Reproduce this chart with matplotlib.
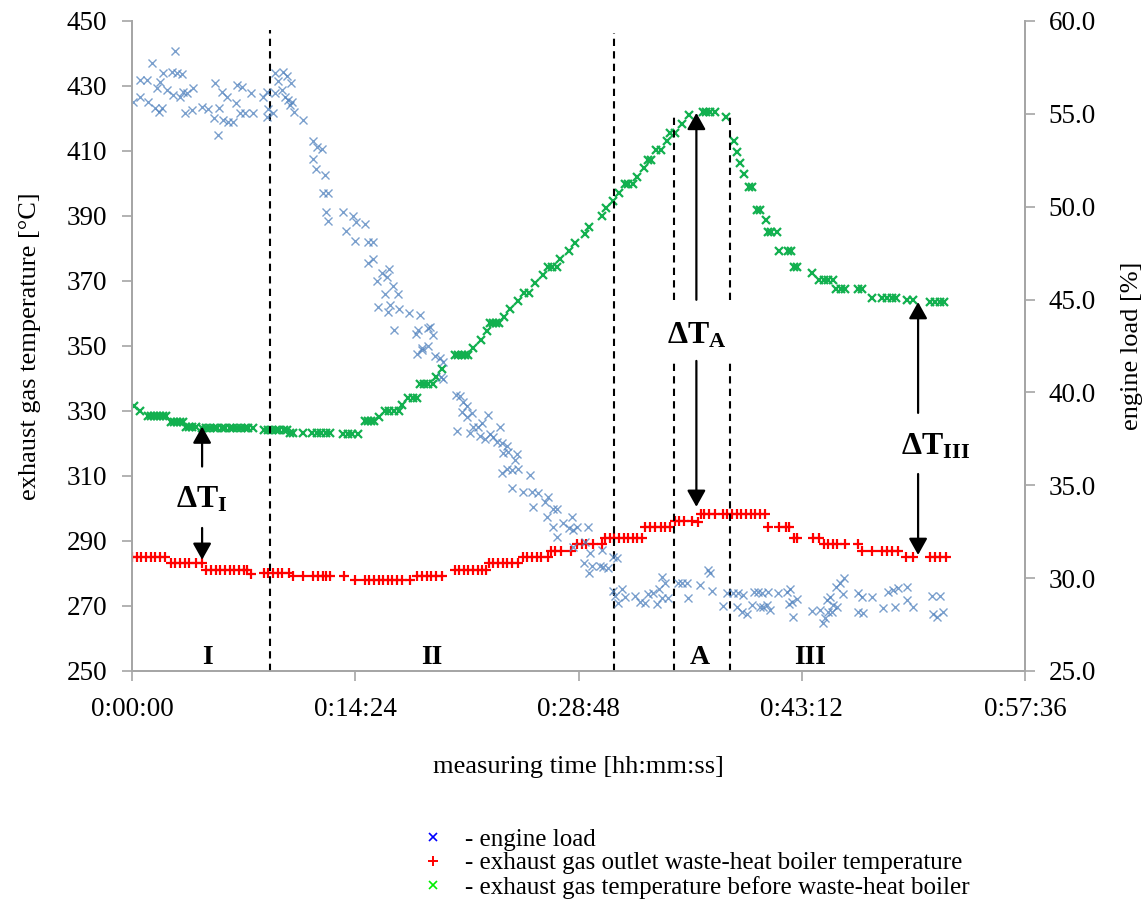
import matplotlib
matplotlib.use("Agg")
import matplotlib.pyplot as plt
from matplotlib.lines import Line2D
from matplotlib.ticker import FuncFormatter, MultipleLocator

# measuring time in minutes
green_t = [0.1, 0.5,
           1.0, 1.2, 1.4, 1.6, 1.8, 2.0, 2.2,
           2.5, 2.7, 2.9, 3.1, 3.3,
           3.5, 3.7, 3.9, 4.1,
           4.5, 4.8, 5.0, 5.3, 5.5, 5.8, 6.0, 6.3, 6.5, 6.8, 7.0, 7.3, 7.5, 7.8,
           8.5, 8.8, 9.0, 9.3, 9.5, 9.8, 10.0,
           10.2, 10.4,
           11.0, 11.6, 11.9, 12.2, 12.5, 12.8,
           13.6, 13.9, 14.2, 14.6,
           15.0, 15.2, 15.4, 15.6,
           15.9,
           16.3, 16.6, 16.9, 17.2,
           17.4,
           17.8, 18.1, 18.4,
           18.6, 18.8, 19.1, 19.4,
           19.6, 20.0,
           20.8, 21.0, 21.3, 21.5, 21.7,
           22.0, 22.5, 22.9,
           23.1, 23.3, 23.5, 23.7,
           24.0, 24.4, 24.9,
           25.3, 25.6,
           26.0, 26.5,
           26.8, 27.1, 27.4,
           27.6, 28.2, 28.6, 29.2, 29.5, 30.3, 30.6, 31.0, 31.4,
           31.8, 32.0, 32.3,
           32.6, 33.0,
           33.3, 33.5,
           33.8, 34.1,
           34.5,
           34.7, 35.0,
           35.5, 35.9,
           36.8, 37.0, 37.3, 37.6,
           38.3, 38.8, 39.0, 39.2, 39.5,
           39.8, 40.0,
           40.3, 40.5,
           40.9,
           41.0, 41.2, 41.6,
           41.7, 42.3, 42.5,
           42.7, 42.9,
           43.85,
           44.3, 44.6, 44.9, 45.2,
           45.4, 45.7, 46.0,
           46.8, 47.1,
           47.7,
           48.4, 48.7, 49.0, 49.3,
           50.0, 50.4,
           51.5, 51.8, 52.1, 52.4]
green_temp = [331.5, 330.0,
              328.5, 328.5, 328.5, 328.5, 328.5, 328.5, 328.5,
              326.7, 326.7, 326.7, 326.7, 326.7,
              325.2, 325.2, 325.2, 325.2,
              324.7, 324.7, 324.7, 324.7, 324.7, 324.7, 324.7, 324.7, 324.7, 324.7, 324.7, 324.7, 324.7, 324.7,
              324.2, 324.2, 324.2, 324.2, 324.2, 324.2, 324.2,
              323.3, 323.3,
              323.1, 323.1, 323.1, 323.1, 323.1, 323.1,
              322.8, 322.8, 322.8, 322.8,
              326.8, 326.8, 326.8, 326.8,
              328.2,
              330.0, 330.0, 330.0, 330.0,
              331.8,
              333.9, 333.9, 333.9,
              338.2, 338.2, 338.2, 338.2,
              340.6, 343.0,
              347.2, 347.2, 347.2, 347.2, 347.2,
              349.3, 351.8, 354.7,
              357.0, 357.0, 357.0, 357.0,
              359.0, 361.3, 363.8,
              366.4, 366.4,
              369.3, 371.8,
              374.4, 374.4, 374.4,
              376.8, 379.2, 381.8, 384.4, 386.7, 390.0, 392.4, 394.7, 397.2,
              399.8, 399.8, 399.8,
              402.1, 404.9,
              407.2, 407.2,
              410.3, 410.3,
              413.2,
              415.6, 415.6,
              418.3, 421.1,
              421.9, 421.9, 421.9, 421.9,
              420.4, 413.1, 409.6, 406.4, 402.9,
              398.8, 398.8,
              391.8, 391.8,
              388.6,
              385.2, 385.2, 385.2,
              379.2, 379.2, 379.2,
              374.4, 374.4,
              372.4,
              370.3, 370.3, 370.3, 370.3,
              367.4, 367.4, 367.4,
              367.4, 367.4,
              364.7,
              364.7, 364.7, 364.7, 364.7,
              364.2, 364.2,
              363.6, 363.6, 363.6, 363.6]

red_t = [0.0, 0.3, 0.6, 0.9, 1.2, 1.5, 1.8, 2.1,
         2.5, 2.8, 3.1, 3.4, 3.7, 4.1, 4.5,
         4.8, 5.1, 5.4, 5.7, 6.0, 6.3, 6.6, 6.9, 7.2, 7.4,
         7.7,
         8.5, 8.8, 9.1, 9.4, 9.7, 10.1,
         10.4, 11.0, 11.7, 12.0, 12.3, 12.5, 12.8, 13.7,
         14.4, 15.0, 15.3, 15.6, 15.9, 16.2, 16.5, 16.8, 17.1, 17.4, 17.9,
         18.4, 18.7, 19.0, 19.3, 19.6, 20.0,
         20.8, 21.1, 21.4, 21.7, 22.0, 22.3, 22.6, 22.8,
         23.0, 23.3, 23.6, 23.9, 24.2, 24.5, 24.9,
         25.2, 25.5, 25.8, 26.1, 26.4, 26.8,
         27.0, 27.3, 27.7, 28.3,
         28.7, 29.0, 29.3, 29.7, 30.3,
         30.5, 30.8, 31.1, 31.4, 31.7, 32.0, 32.3, 32.6, 32.9,
         33.1, 33.4, 33.7, 34.1, 34.4, 34.7,
         35.0, 35.3, 35.6, 36.1,
         36.5,
         36.7, 36.9, 37.2, 37.6,
         38.1, 38.4, 38.7, 39.0, 39.3, 39.6, 39.9, 40.2, 40.5, 40.8,
         41.0, 41.7, 42.2, 42.4,
         42.7, 42.9, 43.9, 44.3,
         44.6, 44.9, 45.2, 45.5, 46.0, 46.8,
         47.1, 47.7, 48.4, 48.7, 49.0, 49.4,
         49.9, 50.4, 51.5, 51.8, 52.1, 52.5]
red_temp = [285.2, 285.2, 285.2, 285.2, 285.2, 285.2, 285.2, 285.2,
            283.1, 283.1, 283.1, 283.1, 283.1, 283.1, 283.1,
            281.1, 281.1, 281.1, 281.1, 281.1, 281.1, 281.1, 281.1, 281.1, 281.1,
            279.8,
            280.0, 280.0, 280.0, 280.0, 280.0, 280.0,
            279.2, 279.2, 279.2, 279.2, 279.2, 279.2, 279.2, 279.2,
            278.0, 278.0, 278.0, 278.0, 278.0, 278.0, 278.0, 278.0, 278.0, 278.0, 278.0,
            279.2, 279.2, 279.2, 279.2, 279.2, 279.2,
            281.1, 281.1, 281.1, 281.1, 281.1, 281.1, 281.1, 281.1,
            283.1, 283.1, 283.1, 283.1, 283.1, 283.1, 283.1,
            285.2, 285.2, 285.2, 285.2, 285.2, 285.2,
            287.0, 287.0, 287.0, 287.0,
            289.1, 289.1, 289.1, 289.1, 289.1,
            291.0, 291.0, 291.0, 291.0, 291.0, 291.0, 291.0, 291.0, 291.0,
            294.2, 294.2, 294.2, 294.2, 294.2, 294.2,
            296.2, 296.2, 296.2, 296.2,
            295.9,
            298.2, 298.2, 298.2, 298.2,
            298.2, 298.2, 298.2, 298.2, 298.2, 298.2, 298.2, 298.2, 298.2, 298.2,
            294.2, 294.2, 294.2, 294.2,
            291.0, 291.0, 291.0, 291.0,
            289.1, 289.1, 289.1, 289.1, 289.1, 289.1,
            287.0, 287.0, 287.0, 287.0, 287.0, 287.0,
            285.0, 285.0, 285.0, 285.0, 285.0, 285.0]

load_t = [0.08, 0.52, 0.52, 0.97, 1.03, 1.29, 1.48, 1.74, 1.61, 1.81,
          1.94, 2.0, 2.26, 2.58, 2.77, 2.65, 2.9, 3.1, 3.23, 3.29,
          3.55, 3.42, 3.87, 3.94, 4.52, 4.9, 5.35, 5.29, 5.55, 5.61,
          5.81, 5.87, 6.13, 6.19, 6.52, 6.71, 6.77, 6.97, 7.1, 7.29,
          7.68, 7.81, 8.45, 8.71, 8.71, 8.77, 9.1, 9.23, 9.23, 9.42,
          9.68, 9.74, 10.0, 9.87, 10.06, 10.19, 10.26, 10.32, 10.45, 11.03,
          11.68, 11.94, 12.26, 11.68, 11.87, 12.45, 12.32, 12.65, 12.52, 12.65,
          13.61, 13.81, 14.26, 14.45, 15.03, 14.39, 15.23, 15.55, 15.23, 15.55,
          16.13, 16.45, 16.58, 15.81, 16.84, 16.32, 17.16, 15.87, 16.52, 16.65,
          17.23, 17.87, 18.58, 16.9, 18.32, 18.45, 19.1, 19.23, 19.42, 18.71,
          19.1, 18.39, 18.71, 19.55, 19.87, 20.06, 19.94, 20.06, 20.9, 21.16,
          21.35, 21.61, 20.97, 21.29, 21.61, 21.94, 21.81, 22.0, 22.32, 22.58,
          22.97, 22.45, 22.77, 23.1, 23.74, 23.29, 23.55, 23.87, 24.19, 23.94,
          24.26, 24.84, 24.71, 23.87, 24.19, 24.52, 24.9, 25.68, 24.52, 25.23,
          25.81, 26.19, 26.84, 25.87, 26.65, 27.16, 27.42, 26.77, 27.16, 27.81,
          28.39, 28.19, 28.71, 29.42, 28.45, 27.42, 28.45, 29.23, 29.16, 29.55,
          29.68, 29.48, 30.19, 30.32, 30.39, 30.71, 31.03, 31.29, 31.03, 31.16,
          31.61, 31.81, 32.45, 31.35, 32.77, 33.1, 33.29, 33.61, 34.0, 34.19,
          34.39, 33.87, 34.19, 34.58, 35.23, 35.48, 35.81, 35.87, 36.65, 37.16,
          37.29, 37.42, 38.13, 38.39, 38.77, 39.1, 39.03, 39.42, 39.35, 39.68,
          40.0, 40.13, 40.39, 40.52, 40.71, 40.97, 41.16, 40.65, 41.03, 41.68,
          42.26, 42.45, 42.39, 42.58, 42.9, 42.65, 43.87, 44.39, 44.58, 44.71,
          44.84, 45.03, 45.23, 45.16, 45.48, 45.42, 45.68, 45.94, 45.87, 44.9,
          46.84, 47.1, 46.84, 47.16, 47.74, 48.45, 48.77, 49.1, 49.42, 49.23,
          50.0, 50.0, 50.39, 51.61, 52.13, 51.68, 51.94, 52.32]
load_pct = [55.65, 55.92, 56.82, 56.82, 55.65, 57.75, 55.30, 55.12, 56.38, 56.73,
            55.30, 57.22, 56.28, 57.27, 58.40, 56.02, 57.22, 55.92, 57.15, 56.19,
            56.11, 55.03, 55.21, 56.38, 55.35, 55.25, 56.68, 54.76, 53.86, 55.30,
            56.19, 54.67, 55.89, 54.58, 54.58, 55.57, 56.55, 55.03, 56.46, 55.03,
            56.11, 55.03, 55.89, 56.19, 54.81, 55.25, 55.03, 57.18, 56.14, 56.79,
            56.28, 57.27, 57.04, 55.89, 55.75, 55.48, 56.65, 55.65, 55.12, 54.67,
            53.54, 53.23, 53.09, 52.57, 52.03, 51.71, 50.72, 50.72, 49.70, 49.25,
            49.73, 48.71, 49.52, 49.16, 49.08, 48.17, 48.12, 48.12, 46.95, 47.17,
            46.41, 46.23, 46.63, 46.02, 45.73, 45.30, 45.30, 44.61, 44.35, 44.71,
            44.47, 44.26, 44.17, 43.36, 43.13, 43.36, 43.45, 43.54, 43.09, 42.37,
            42.50, 42.07, 42.28, 41.96, 41.84, 41.65, 40.85, 40.71, 39.86, 39.81,
            39.50, 39.27, 37.94, 38.96, 38.66, 38.87, 37.80, 38.15, 38.15, 38.34,
            38.78, 37.65, 37.47, 37.76, 38.15, 37.61, 37.35, 37.26, 37.11, 36.72,
            36.81, 36.68, 36.36, 35.68, 35.86, 35.82, 35.86, 35.55, 34.84, 34.65,
            34.65, 34.57, 34.38, 33.85, 34.11, 33.71, 33.71, 33.27, 32.74, 32.95,
            33.27, 32.68, 32.77, 32.74, 32.59, 32.20, 31.69, 31.96, 30.83, 31.34,
            30.65, 30.26, 30.65, 31.51, 30.61, 30.53, 31.15, 31.07, 29.32, 29.04,
            29.40, 29.00, 29.04, 28.64, 28.73, 28.68, 29.14, 29.18, 29.40, 30.08,
            29.72, 28.61, 28.91, 28.91, 29.72, 29.72, 29.72, 28.91, 29.63, 30.44,
            30.26, 29.32, 28.50, 29.18, 29.18, 29.18, 28.43, 29.09, 28.19, 28.07,
            28.55, 29.27, 29.27, 28.46, 28.46, 28.55, 28.28, 29.21, 29.27, 29.18,
            29.27, 29.40, 28.61, 28.73, 28.86, 27.92, 28.25, 28.28, 27.57, 27.84,
            28.82, 28.97, 28.55, 28.19, 28.46, 29.54, 29.72, 29.99, 29.14, 28.19,
            29.18, 29.00, 28.19, 28.11, 28.97, 28.37, 29.27, 29.36, 29.45, 28.46,
            29.54, 28.82, 28.46, 29.04, 29.04, 28.07, 27.89, 28.19]

# phase boundaries (min) and labels
phase_lines = [8.9, 31.1, 34.97, 38.6]
phase_names = ["I", "II", "A", "III"]
phase_label_x = [4.84, 19.35, 36.6, 43.7]

temp_ticks = [250, 270, 290, 310, 330, 350, 370, 390, 410, 430, 450]

legend_labels = ["- engine load",
                 "- exhaust gas outlet waste-heat boiler temperature",
                 "- exhaust gas temperature before waste-heat boiler"]

plt.rcParams["font.family"] = ["Liberation Serif", "DejaVu Serif"]
plt.rcParams["mathtext.fontset"] = "custom"
plt.rcParams["mathtext.rm"] = "Liberation Serif"
plt.rcParams["mathtext.bf"] = "Liberation Serif:bold"
plt.rcParams["mathtext.it"] = "Liberation Serif:italic"

axis_grey = "#a6a6a6"


def hms(x, pos):
    s = int(round(x * 60))
    return f"{s // 3600}:{(s % 3600) // 60:02d}:{s % 60:02d}"


fig = plt.figure(figsize=(11.47, 9.14), dpi=100)
ax = fig.add_axes([0.1151, 0.2659, 0.7786, 0.7112])
ax2 = ax.twinx()

ax.plot(green_t, green_temp, ls="none", marker="x", ms=5.6, mew=1.6,
        color="#12b04f", zorder=3)
ax.plot(red_t, red_temp, ls="none", marker="+", ms=6.5, mew=1.6,
        color="#ff0000", zorder=3)
ax2.plot(load_t, load_pct, ls="none", marker="x", ms=5.8, mew=1.0,
         color="#4f81bd", alpha=0.75, zorder=2)

ax.set_xlim(0, 57.6)
ax.set_ylim(250, 450)
ax2.set_ylim(25, 60)
ax.xaxis.set_major_locator(MultipleLocator(14.4))
ax.xaxis.set_major_formatter(FuncFormatter(hms))
ax.set_yticks(temp_ticks)
ax2.yaxis.set_major_locator(MultipleLocator(5))
ax2.yaxis.set_major_formatter(FuncFormatter(lambda v, p: f"{v:.1f}"))

for a in (ax, ax2):
    a.spines["top"].set_visible(False)
    for sp in ("left", "right", "bottom"):
        a.spines[sp].set_color(axis_grey)
        a.spines[sp].set_linewidth(1.3)
    a.tick_params(color=axis_grey, length=7, width=1.2, labelsize=19.5,
                  direction="out")
ax.tick_params(axis="x", pad=12)
ax.tick_params(axis="y", pad=11)
ax2.tick_params(axis="y", pad=10)

ax.set_xlabel("measuring time [hh:mm:ss]", fontsize=19, labelpad=24)
ax.set_ylabel("exhaust gas temperature [°C]", fontsize=19, labelpad=18)
ax2.set_ylabel("engine load [%]", fontsize=19, labelpad=18)

# dashed phase boundaries
dash = dict(color="black", lw=1.5, ls=(0, (3.5, 2.5)), zorder=4)
ax.plot([phase_lines[0]] * 2, [250, 447.2], **dash)
ax.plot([phase_lines[1]] * 2, [250, 446.3], **dash)
for xl in phase_lines[2:]:
    ax.plot([xl, xl], [250, 345.4], **dash)
    ax.plot([xl, xl], [364.2, 421.3], **dash)

for name, xl in zip(phase_names, phase_label_x):
    ax.text(xl, 252, name, ha="center", va="baseline", fontsize=20,
            fontweight="bold")

# temperature difference arrows
arrow = dict(arrowstyle="-|>,head_length=0.5,head_width=0.28", color="black",
             lw=1.6, mutation_scale=20, shrinkA=0, shrinkB=0)


def delta(x, up, down, lab_x, lab_y, sub):
    ax.annotate("", xy=(x, up[1]), xytext=(x, up[0]), arrowprops=arrow, zorder=5)
    ax.annotate("", xy=(x, down[1]), xytext=(x, down[0]), arrowprops=arrow, zorder=5)
    ax.text(lab_x, lab_y, r"$\mathbf{\Delta T_{" + sub + r"}}$", ha="center",
            va="baseline", fontsize=23, zorder=5)


delta(4.52, (312.9, 325.2), (294.0, 284.2), 4.48, 300.2, "I")
delta(36.4, (364.2, 421.7), (345.4, 300.5), 36.42, 350.9, "A")
delta(50.7, (329.4, 363.5), (310.6, 285.7), 51.8, 316.5, "III")

handles = [Line2D([], [], ls="none", marker="x", ms=6, mew=1.2, color="#0000ff"),
           Line2D([], [], ls="none", marker="+", ms=7, mew=1.4, color="#ff0000"),
           Line2D([], [], ls="none", marker="x", ms=6, mew=1.2, color="#00ee00")]
fig.legend(handles, legend_labels, loc="upper left",
           bbox_to_anchor=(0.3666, 0.094), frameon=False, fontsize=18,
           handlelength=1.0, handletextpad=0.78, labelspacing=0.05,
           borderpad=0, borderaxespad=0, numpoints=1)

fig.savefig("out.png", dpi=100)
